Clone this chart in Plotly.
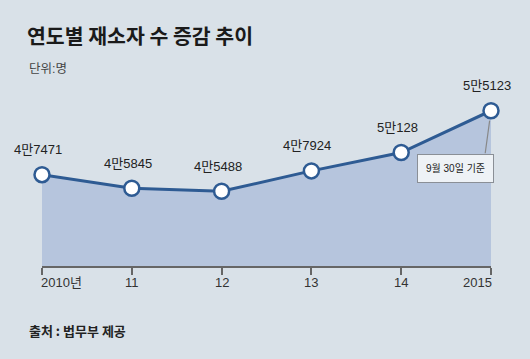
import plotly.graph_objects as go

years = [2010, 2011, 2012, 2013, 2014, 2015]
tick_labels = ["2010년", "11", "12", "13", "14", "2015"]
inmates = [47471, 45845, 45488, 47924, 50128, 55123]
value_labels = ["4만7471", "4만5845", "4만5488", "4만7924", "5만128", "5만5123"]

FONT = "Liberation Sans, Noto Sans CJK KR"
TFONT = "Noto Sans CJK KR"
BG = "#d9e1e8"
LINE = "#2e5b93"
AREA = "#b6c5dd"

W, H = 530, 359
ML, MR, MT, MB = 42, 39, 60, 93
PW, PH = W - ML - MR, H - MT - MB

def py(px):
    return (H - MB - px) / PH

def pxx(px):
    return (px - ML) / PW

fig = go.Figure()
fig.add_trace(go.Scatter(
    x=years, y=inmates, mode="lines+markers",
    fill="tozeroy", fillcolor=AREA,
    line=dict(color=LINE, width=3),
    marker=dict(size=15, color="white", line=dict(color=LINE, width=2.5)),
    hoverinfo="skip", cliponaxis=False,
))

ann = []
for x, v, t in zip(years, inmates, value_labels):
    ann.append(dict(x=x, y=v, text=t, showarrow=False, xshift=-4, yshift=25,
                    font=dict(family=FONT, size=13, color="#222")))

for i, (x, t) in enumerate(zip(years, tick_labels)):
    xa = "left" if i == 0 else ("right" if i == len(years) - 1 else "center")
    xs = -3 if i == 0 else (3 if i == len(years) - 1 else 0)
    ann.append(dict(x=x, y=0, yref="paper", text=t, showarrow=False, xanchor=xa,
                    yanchor="top", yshift=-7, xshift=xs,
                    font=dict(family=FONT, size=13, color="#333")))

# callout pointer and box
ann.append(dict(x=years[-1], y=inmates[-1], text="", showarrow=True, arrowhead=0,
                arrowwidth=1.2, arrowcolor="#888", ax=-6, ay=44, standoff=10))
ann.append(dict(x=years[-1], y=inmates[-1], text="9월 30일 기준", showarrow=False,
                xshift=-36, yshift=-58, bgcolor="#eef2f6", bordercolor="#8a8f96",
                borderwidth=1, borderpad=8,
                font=dict(family=FONT, size=10, color="#222")))

ann.append(dict(x=pxx(27), y=py(69), xref="paper", yref="paper", text="단위:명",
                showarrow=False, xanchor="left", yanchor="middle",
                font=dict(family=FONT, size=12.5, color="#444")))
ann.append(dict(x=pxx(27), y=py(330), xref="paper", yref="paper",
                text="<b>출처 : 법무부 제공</b>", showarrow=False, xanchor="left",
                yanchor="middle", font=dict(family=TFONT, size=13, color="#222")))

fig.update_layout(
    width=W, height=H,
    margin=dict(l=ML, r=MR, t=MT, b=MB),
    paper_bgcolor=BG, plot_bgcolor=BG,
    showlegend=False,
    title=dict(text="<b>연도별 재소자 수 증감 추이</b>", x=27 / W, xanchor="left",
               xref="container", y=1 - 37 / H, yanchor="middle", yref="container",
               font=dict(family=TFONT, size=20.5, color="#1a1a1a")),
    annotations=ann,
    xaxis=dict(range=[2010, 2015], showgrid=False, zeroline=False, showline=True,
               linecolor="#666", linewidth=1.5, ticks="outside", ticklen=7,
               tickwidth=1.5, tickcolor="#666", tickvals=years, showticklabels=False,
               fixedrange=True),
    yaxis=dict(range=[36550, 61191], visible=False, showgrid=False, zeroline=False,
               fixedrange=True),
)

fig.write_html("out.html", config={"displayModeBar": False},
               post_script="document.body.style.margin='0';")
